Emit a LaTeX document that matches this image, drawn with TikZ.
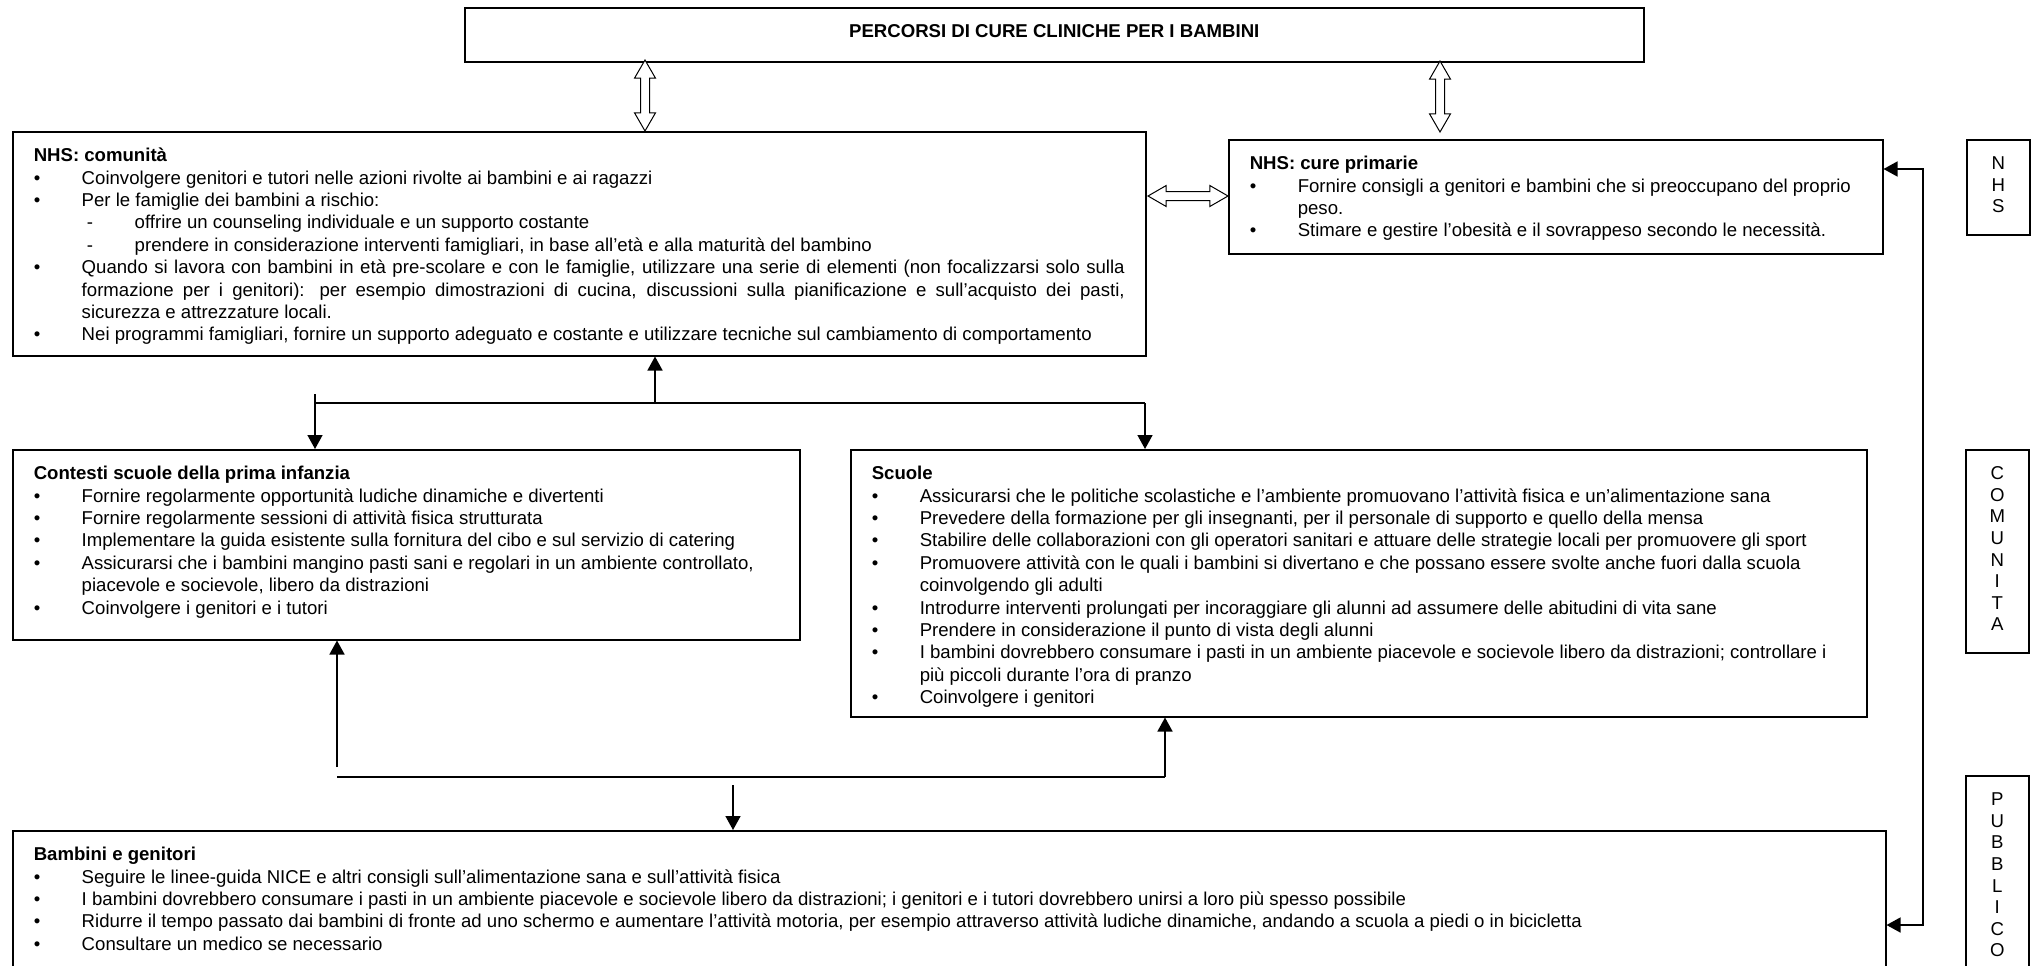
\documentclass[tikz,border=0pt]{standalone}
\usepackage{fontspec}
\setmainfont{Liberation Sans}
\usetikzlibrary{arrows.meta, shapes.arrows}

\newcommand{\head}[1]{\noindent\rule{0pt}{15pt}\textbf{#1}}
\newcommand{\itm}{\par\hangindent=24pt\hangafter=1\noindent\makebox[24pt][l]{\textbullet}}
\newcommand{\subitm}{\par\hangindent=50.5pt\hangafter=1\noindent\hspace*{26.5pt}\makebox[24pt][l]{-}}
\newcommand{\panelbody}[3]{\parbox[c][#2][t]{#1}{\raggedright\hyphenpenalty=10000 #3\par}}
\newcommand{\sidebody}[2]{\parbox[c][#1][t]{31.5pt}{\centering\baselineskip=10.8pt\rule{0pt}{15pt}#2\par}}

\begin{document}
\begin{tikzpicture}[x=0.5pt, y=-0.5pt,
  every node/.style={font=\fontsize{9.3pt}{11.2pt}\selectfont},
  panel/.style={draw, line width=0.75pt, anchor=north west, inner xsep=10.5pt, inner ysep=0pt},
  side/.style={draw, line width=0.75pt, anchor=north west, inner sep=0pt},
  dblarrow/.style={double arrow, draw, fill=white, line width=0.5pt, inner sep=2pt,
    double arrow head extend=3pt, double arrow tip angle=60},
  bus/.style={line width=0.75pt},
  link/.style={line width=0.75pt, -{Triangle[length=7pt, width=7.5pt]}},
  both/.style={line width=0.75pt, {Triangle[length=7pt, width=7.5pt]}-{Triangle[length=7pt, width=7.5pt]}}]
  \useasboundingbox (0,0) rectangle (2038,965);
  \clip (0,0) rectangle (2038,965);

  % title
  \node[draw, line width=0.75pt, anchor=north west, minimum width=589.5pt, minimum height=27pt,
    text depth=4pt, font=\bfseries\fontsize{9.3pt}{11.2pt}\selectfont] (top) at (464,7)
    {PERCORSI DI CURE CLINICHE PER I BAMBINI};

  % panels
  \node[panel] (comunita) at (12,131) {\panelbody{545.5pt}{112pt}{%
    \head{NHS: comunità}
    \itm Coinvolgere genitori e tutori nelle azioni rivolte ai bambini e ai ragazzi
    \itm Per le famiglie dei bambini a rischio:
    \subitm offrire un counseling individuale e un supporto costante
    \subitm prendere in considerazione interventi famigliari, in base all’età e alla maturità del bambino
    \itm {\rightskip=0pt Quando si lavora con bambini in età pre-scolare e con le famiglie, utilizzare una serie di elementi (non focalizzarsi solo sulla\linebreak
      formazione per i genitori): per esempio dimostrazioni di cucina, discussioni sulla pianificazione e sull’acquisto dei pasti,\linebreak
      sicurezza e attrezzature locali.\par}
    \itm Nei programmi famigliari, fornire un supporto adeguato e costante e utilizzare tecniche sul cambiamento di comportamento}};

  \node[panel] (primarie) at (1228,139) {\panelbody{306pt}{57pt}{%
    \head{NHS: cure primarie}
    \itm Fornire consigli a genitori e bambini che si preoccupano del proprio\newline peso.
    \itm Stimare e gestire l’obesità e il sovrappeso secondo le necessità.}};

  \node[panel] (contesti) at (12,449) {\panelbody{372.5pt}{95pt}{%
    \head{Contesti scuole della prima infanzia}
    \itm Fornire regolarmente opportunità ludiche dinamiche e divertenti
    \itm Fornire regolarmente sessioni di attività fisica strutturata
    \itm Implementare la guida esistente sulla fornitura del cibo e sul servizio di catering
    \itm Assicurarsi che i bambini mangino pasti sani e regolari in un ambiente controllato,\newline piacevole e socievole, libero da distrazioni
    \itm Coinvolgere i genitori e i tutori}};

  \node[panel] (scuole) at (850,449) {\panelbody{487pt}{133.5pt}{%
    \head{Scuole}
    \itm Assicurarsi che le politiche scolastiche e l’ambiente promuovano l’attività fisica e un’alimentazione sana
    \itm Prevedere della formazione per gli insegnanti, per il personale di supporto e quello della mensa
    \itm Stabilire delle collaborazioni con gli operatori sanitari e attuare delle strategie locali per promuovere gli sport
    \itm Promuovere attività con le quali i bambini si divertano e che possano essere svolte anche fuori dalla scuola\newline coinvolgendo gli adulti
    \itm Introdurre interventi prolungati per incoraggiare gli alunni ad assumere delle abitudini di vita sane
    \itm Prendere in considerazione il punto di vista degli alunni
    \itm I bambini dovrebbero consumare i pasti in un ambiente piacevole e socievole libero da distrazioni; controllare i\newline più piccoli durante l’ora di pranzo
    \itm Coinvolgere i genitori}};

  \node[panel] (bambini) at (12,830) {\panelbody{915.5pt}{80pt}{%
    \head{Bambini e genitori}
    \itm Seguire le linee-guida NICE e altri consigli sull’alimentazione sana e sull’attività fisica
    \itm I bambini dovrebbero consumare i pasti in un ambiente piacevole e socievole libero da distrazioni; i genitori e i tutori dovrebbero unirsi a loro più spesso possibile
    \itm Ridurre il tempo passato dai bambini di fronte ad uno schermo e aumentare l’attività motoria, per esempio attraverso attività ludiche dinamiche, andando a scuola a piedi o in bicicletta
    \itm Consultare un medico se necessario}};

  % side labels
  \node[side] (sideNhs) at (1966,139) {\sidebody{47.5pt}{N\\H\\S}};
  \node[side] (sideCom) at (1965,449) {\sidebody{101.5pt}{C\\O\\M\\U\\N\\I\\T\\A}};
  \node[side] (sidePub) at (1965,775) {\sidebody{100pt}{P\\U\\B\\B\\L\\I\\C\\O}};

  % hollow double arrows
  \node[dblarrow, shape border rotate=90, minimum height=35.5pt] (linkCom) at (645,95.5) {};
  \node[dblarrow, shape border rotate=90, minimum height=35.5pt] (linkPri) at (1440,96.5) {};
  \node[dblarrow, minimum height=40pt] (linkSide) at (1188,196) {};

  % upper branch
  \coordinate (stubA) at (315,394);
  \coordinate (busAL) at (315,403);
  \coordinate (busAM) at (655,403);
  \coordinate (busAR) at (1145,403);
  \draw[bus] (busAL) -- (busAR);
  \draw[link] (busAM) -- (busAM |- comunita.south);
  \draw[link] (stubA) -- (stubA |- contesti.north);
  \draw[link] (busAR) -- (busAR |- scuole.north);

  % lower branch
  \coordinate (stubB) at (337,767);
  \coordinate (busBL) at (337,777);
  \coordinate (busBR) at (1165,777);
  \coordinate (stubC) at (733,785);
  \draw[link] (stubB) -- (stubB |- contesti.south);
  \draw[bus] (busBL) -- (busBR);
  \draw[link] (busBR) -- (busBR |- scuole.south);
  \draw[link] (stubC) -- (stubC |- bambini.north);

  % right loop
  \coordinate (loopT) at (1923,169);
  \coordinate (loopB) at (1923,925);
  \draw[both] (loopT -| primarie.east) -- (loopT) -- (loopB) -- (loopB -| bambini.east);
\end{tikzpicture}
\end{document}
